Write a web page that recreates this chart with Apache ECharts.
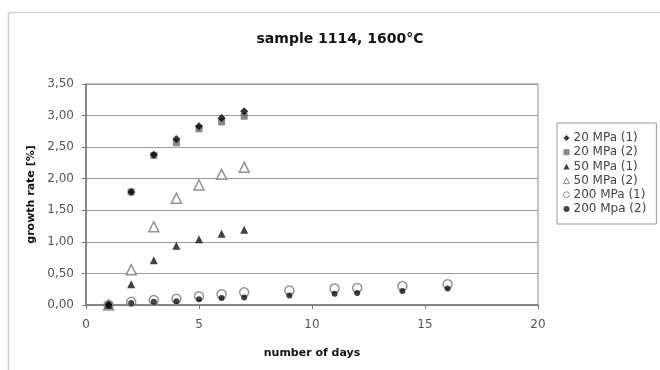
<!DOCTYPE html>
<html><head><meta charset="utf-8">
<script src="https://cdn.jsdelivr.net/npm/echarts@6/dist/echarts.min.js"></script>
<style>html,body{margin:0;padding:0;background:#fff}#c{width:660px;height:370px}</style>
</head><body><div id="c"></div>
<script>
var daysShort = [1, 2, 3, 4, 5, 6, 7];
var daysLong = [1, 2, 3, 4, 5, 6, 7, 9, 11, 12, 14, 16];
var mpa20_1 = [0.00, 1.79, 2.38, 2.63, 2.83, 2.96, 3.07];
var mpa20_2 = [0.00, 1.79, 2.37, 2.57, 2.79, 2.90, 2.99];
var mpa50_1 = [0.00, 0.33, 0.71, 0.94, 1.04, 1.13, 1.19];
var mpa50_2 = [0.00, 0.56, 1.24, 1.69, 1.90, 2.07, 2.18];
var mpa200_1 = [0.00, 0.05, 0.08, 0.10, 0.14, 0.17, 0.20, 0.23, 0.26, 0.27, 0.30, 0.33];
var mpa200_2 = [0.00, 0.03, 0.05, 0.06, 0.09, 0.11, 0.12, 0.15, 0.18, 0.19, 0.22, 0.26];
var seriesNames = ['20 MPa (1)', '20 MPa (2)', '50 MPa (1)', '50 MPa (2)', '200 MPa (1)', '200 Mpa (2)'];
var yTicks = [0, 0.5, 1, 1.5, 2, 2.5, 3, 3.5];

function pairs(xs, ys) { return ys.map(function (v, i) { return [xs[i], v]; }); }
var font = '"DejaVu Sans", Verdana, sans-serif';

var chart = echarts.init(document.getElementById('c'));
chart.setOption({
  animation: false,
  title: { text: 'sample 1114, 1600°C', left: 335, top: 27, textAlign: 'center',
    textStyle: { fontFamily: font, fontSize: 14, fontWeight: 'bold', color: '#111' } },
  grid: { left: 86, right: 122, top: 84, bottom: 65, show: true, borderColor: '#8a8a8a', borderWidth: 1 },
  xAxis: { type: 'value', min: 0, max: 20, interval: 5,
    name: 'number of days', nameLocation: 'middle', nameGap: 43,
    nameTextStyle: { fontFamily: font, fontSize: 11, fontWeight: 'bold', color: '#111' },
    axisLine: { lineStyle: { color: '#777', width: 1.5 } },
    axisTick: { show: true, inside: false, length: 4, lineStyle: { color: '#777' } },
    splitLine: { show: false },
    axisLabel: { fontFamily: font, fontSize: 12, color: '#555', margin: 14 } },
  yAxis: { type: 'value', min: 0, max: 3.5, interval: 0.5,
    name: 'growth rate [%]', nameLocation: 'middle', nameGap: 41,
    nameTextStyle: { fontFamily: font, fontSize: 11, fontWeight: 'bold', color: '#111' },
    axisLine: { show: true, lineStyle: { color: '#777', width: 1.5 } },
    axisTick: { show: true, length: 4, lineStyle: { color: '#777' } },
    splitLine: { show: true, lineStyle: { color: '#9a9a9a', width: 1 } },
    axisLabel: { fontFamily: font, fontSize: 12, color: '#555', margin: 12,
      formatter: function (v) { return v.toFixed(2).replace('.', ','); } } },
  legend: {
    orient: 'vertical', left: 557, top: 123, itemWidth: 6, itemHeight: 6, itemGap: 2.2,
    padding: [9, 10, 9, 6], borderColor: '#999', borderWidth: 1, backgroundColor: '#fff',
    textStyle: { fontFamily: font, fontSize: 12, color: '#444', padding: [0, 0, 0, -1] },
    data: [
      { name: seriesNames[0], icon: 'diamond', itemStyle: { color: '#000' } },
      { name: seriesNames[1], icon: 'rect', itemStyle: { color: '#666' } },
      { name: seriesNames[2], icon: 'triangle', itemStyle: { color: '#111' } },
      { name: seriesNames[3], icon: 'triangle', itemStyle: { color: '#fff', borderColor: '#777', borderWidth: 1 } },
      { name: seriesNames[4], icon: 'circle', itemStyle: { color: '#fff', borderColor: '#777', borderWidth: 1 } },
      { name: seriesNames[5], icon: 'circle', itemStyle: { color: '#111' } }
    ]
  },
  graphic: [
    { type: 'line', shape: { x1: 8.5, y1: 12.5, x2: 660, y2: 12.5 }, style: { stroke: '#d0d0d0', lineWidth: 1.5 } },
    { type: 'line', shape: { x1: 8.5, y1: 12.5, x2: 8.5, y2: 370 }, style: { stroke: '#d0d0d0', lineWidth: 1.5 } }
  ],
  series: [
    { name: seriesNames[4], type: 'scatter', data: pairs(daysLong, mpa200_1), symbol: 'circle', symbolSize: 9,
      itemStyle: { color: '#fff', borderColor: '#777', borderWidth: 1.5 }, z: 2 },
    { name: seriesNames[5], type: 'scatter', data: pairs(daysLong, mpa200_2), symbol: 'circle', symbolSize: 6,
      itemStyle: { color: '#111' }, z: 3 },
    { name: seriesNames[1], type: 'scatter', data: pairs(daysShort, mpa20_2), symbol: 'rect', symbolSize: 7,
      itemStyle: { color: '#666' }, z: 2 },
    { name: seriesNames[0], type: 'scatter', data: pairs(daysShort, mpa20_1), symbol: 'diamond', symbolSize: 8,
      itemStyle: { color: '#000' }, z: 3 },
    { name: seriesNames[2], type: 'scatter', data: pairs(daysShort, mpa50_1), symbol: 'triangle', symbolSize: 8,
      itemStyle: { color: '#111' }, z: 3 },
    { name: seriesNames[3], type: 'scatter', data: pairs(daysShort, mpa50_2), symbol: 'triangle', symbolSize: 10,
      itemStyle: { color: '#fff', borderColor: '#777', borderWidth: 1.5 }, z: 2 }
  ]
});
</script></body></html>
